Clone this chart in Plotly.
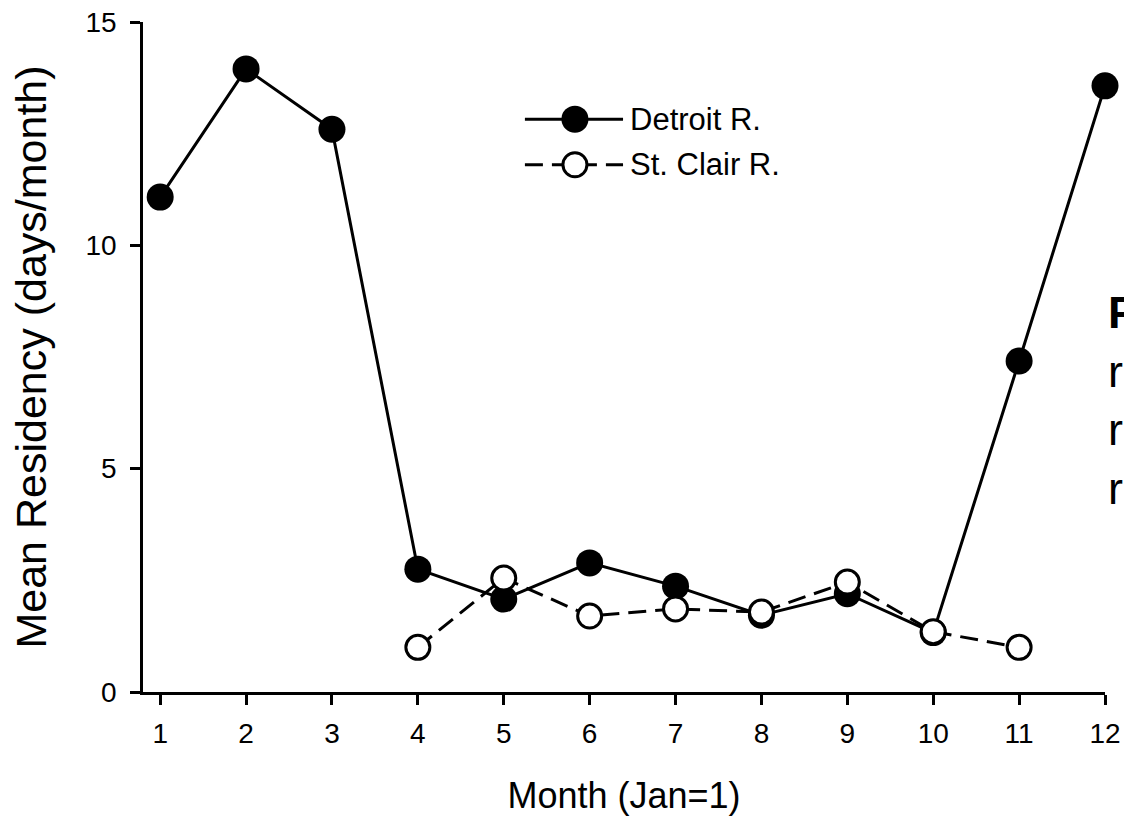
import plotly.graph_objects as go

months = [1, 2, 3, 4, 5, 6, 7, 8, 9, 10, 11, 12]
detroit = [11.08, 13.95, 12.60, 2.75, 2.08, 2.89, 2.37, 1.72, 2.20, 1.33, 7.41, 13.57]
stclair_months = [4, 5, 6, 7, 8, 9, 10, 11]
stclair = [1.00, 2.55, 1.70, 1.86, 1.79, 2.46, 1.35, 1.00]
series_names = ["Detroit R.", "St. Clair R."]
x_ticks = list(range(1, 13))
y_ticks = [0, 5, 10, 15]

FONT = "Liberation Sans, Arial, sans-serif"
DASH = "18px,9px"

fig = go.Figure()
fig.add_trace(go.Scatter(
    x=months, y=detroit, mode="lines+markers", name=series_names[0],
    line=dict(color="black", width=3),
    marker=dict(symbol="circle", size=27, color="black"),
    showlegend=False, cliponaxis=False))
fig.add_trace(go.Scatter(
    x=stclair_months, y=stclair, mode="lines+markers", name=series_names[1],
    line=dict(color="black", width=3, dash=DASH),
    marker=dict(symbol="circle", size=24, color="white", line=dict(color="black", width=3)),
    showlegend=False, cliponaxis=False))

# custom legend samples on an overlay axis (0..1 box)
leg_x = [0.397, 0.449, 0.499]
leg_y = [0.855, 0.787]
fig.add_trace(go.Scatter(
    x=leg_x, y=[leg_y[0]] * 3, mode="lines", line=dict(color="black", width=3),
    xaxis="x2", yaxis="y2", showlegend=False, hoverinfo="skip"))
fig.add_trace(go.Scatter(
    x=[leg_x[1]], y=[leg_y[0]], mode="markers",
    marker=dict(symbol="circle", size=27, color="black"),
    xaxis="x2", yaxis="y2", showlegend=False, hoverinfo="skip"))
fig.add_trace(go.Scatter(
    x=leg_x, y=[leg_y[1]] * 3, mode="lines", line=dict(color="black", width=3, dash=DASH),
    xaxis="x2", yaxis="y2", showlegend=False, hoverinfo="skip"))
fig.add_trace(go.Scatter(
    x=[leg_x[1]], y=[leg_y[1]], mode="markers",
    marker=dict(symbol="circle", size=24, color="white", line=dict(color="black", width=3)),
    xaxis="x2", yaxis="y2", showlegend=False, hoverinfo="skip"))

annotations = []
for name, yy in zip(series_names, leg_y):
    annotations.append(dict(x=0.504, y=yy, xref="x2", yref="y2", text=name, showarrow=False,
                            xanchor="left", yanchor="middle",
                            font=dict(family=FONT, size=31, color="black")))

# clipped caption fragment at the right edge
side_text = "<b>F</b><br>r<br>r<br>r"
annotations.append(dict(x=1.001, y=0.607, xref="paper", yref="paper", text=side_text, showarrow=False,
                        xanchor="left", yanchor="top", align="left",
                        font=dict(family=FONT, size=45, color="black")))

fig.update_layout(
    width=1124, height=823,
    margin=dict(l=143, r=19, t=22, b=131, autoexpand=False),
    paper_bgcolor="white", plot_bgcolor="white",
    font=dict(family=FONT, color="black"),
    annotations=annotations,
    xaxis=dict(
        range=[0.8, 12], tickvals=x_ticks, ticktext=[str(v) for v in x_ticks],
        showline=True, linecolor="black", linewidth=2.5,
        ticks="outside", ticklen=10, tickwidth=2.5, tickcolor="black",
        showgrid=False, zeroline=False, automargin=False,
        tickfont=dict(family=FONT, size=28, color="black"),
        ticklabelstandoff=5,
        title=dict(text="Month (Jan=1)", font=dict(family=FONT, size=36, color="black"), standoff=35),
    ),
    yaxis=dict(
        range=[0, 15], tickvals=y_ticks, ticktext=[str(v) for v in y_ticks],
        showline=True, linecolor="black", linewidth=2.5,
        ticks="outside", ticklen=10, tickwidth=2.5, tickcolor="black",
        showgrid=False, zeroline=False, automargin=False,
        tickfont=dict(family=FONT, size=28, color="black"),
        ticklabelstandoff=8,
        title=dict(text="Mean Residency (days/month)", font=dict(family=FONT, size=43, color="black"), standoff=26),
    ),
    xaxis2=dict(overlaying="x", range=[0, 1], visible=False, fixedrange=True, automargin=False),
    yaxis2=dict(overlaying="y", range=[0, 1], visible=False, fixedrange=True, automargin=False),
)

fig.write_html("out.html", config={"displayModeBar": False},
               post_script="document.body.style.margin='0';")
